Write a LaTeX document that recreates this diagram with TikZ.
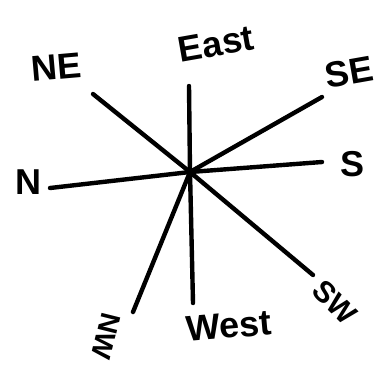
\documentclass[tikz,border=0pt]{standalone}
\usepackage{fontspec}
\setmainfont{Liberation Sans}
\begin{document}
\begin{tikzpicture}[x=1pt,y=-1pt,
  ray/.style={line width=4.4pt,line cap=round,line join=round},
  lbl/.style={font=\fontsize{36}{38}\selectfont\bfseries,inner sep=0pt}]
\useasboundingbox (0,0) rectangle (387,373);
\coordinate (c) at (190,172);
\coordinate (eTop) at (189,86);
\coordinate (eBot) at (193,303);
\coordinate (eNE) at (93,94);
\coordinate (eSE) at (322,97);
\coordinate (eS) at (322,162);
\coordinate (eN) at (50,188);
\coordinate (eSW) at (313,275);
\coordinate (eNW) at (133,312);
\draw[ray] (eTop) -- (c) -- (eBot);
\draw[ray] (eNE) -- (c);
\draw[ray] (c) -- (eSE);
\draw[ray] (c) -- (eS);
\draw[ray] (eN) -- (c);
\draw[ray] (c) -- (eSW);
\draw[ray] (c) -- (eNW);
\node[lbl,rotate=10] (lEast) at (216,44) {East};
\node[lbl,rotate=5] (lNE) at (56,67) {NE};
\node[lbl,rotate=10] (lSE) at (349,72) {SE};
\node[lbl] (lS) at (352,164) {S};
\node[lbl] (lN) at (28,182) {N};
\node[lbl,rotate=-45,font=\fontsize{30}{32}\selectfont\bfseries] (lSW) at (335,302) {SW};
\node[lbl,rotate=-104,font=\fontsize{28}{30}\selectfont\bfseries] (lNW) at (106,336) {NW};
\node[lbl,rotate=5] (lWest) at (229,326) {West};
\end{tikzpicture}
\end{document}
